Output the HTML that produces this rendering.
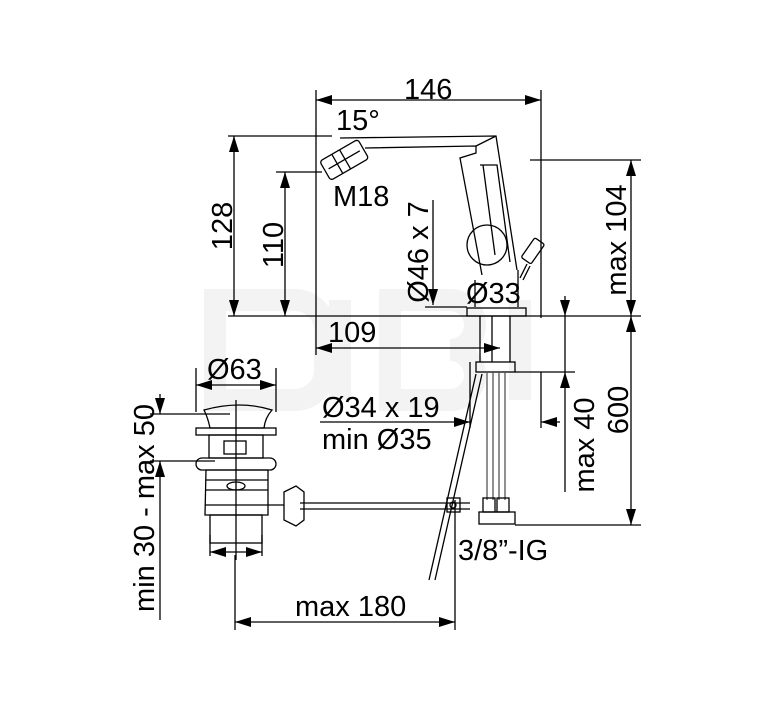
<!DOCTYPE html>
<html><head><style>body{margin:0;background:#fff}svg{display:block}text{font-family:"Liberation Sans",sans-serif;fill:#000}</style></head><body>
<svg width="767" height="709" viewBox="0 0 767 709" xmlns="http://www.w3.org/2000/svg">
<defs>
<marker id="b" viewBox="0 0 16 10" refX="16" refY="5" markerWidth="16" markerHeight="10" orient="auto-start-reverse" markerUnits="userSpaceOnUse"><path d="M0,0 L16,5 L0,10z" fill="#000"/></marker></defs>
<!-- watermark -->
<g fill="none" stroke="#f3f3f3" stroke-width="22">
<path d="M215,300 h80 a30,30 0 0 1 30,30 v40 a30,30 0 0 1 -30,30 h-80z"/>
<path d="M390,300 h60 a25,25 0 0 1 0,50 a25,25 0 0 1 0,50 h-60z"/>
<path d="M340,300 v100 M520,300 v100"/>
</g>
<g stroke="#000" stroke-width="1.3" fill="none">
<line x1="316" y1="100" x2="541" y2="100" marker-start="url(#b)" marker-end="url(#b)"/>
<line x1="316" y1="90" x2="316" y2="355"/>
<line x1="541" y1="90" x2="541" y2="318"/>
<line x1="228" y1="136" x2="332" y2="136"/>
<line x1="234" y1="136" x2="234" y2="316" marker-start="url(#b)" marker-end="url(#b)"/>
<line x1="276" y1="172" x2="322" y2="172"/>
<line x1="285" y1="172" x2="285" y2="316" marker-start="url(#b)" marker-end="url(#b)"/>
<line x1="228" y1="316" x2="641" y2="316"/>
<line x1="530" y1="160" x2="641" y2="160"/>
<line x1="631" y1="160" x2="631" y2="316" marker-start="url(#b)" marker-end="url(#b)"/>
<line x1="631" y1="316" x2="631" y2="525" marker-start="url(#b)" marker-end="url(#b)"/>
<line x1="515" y1="525" x2="641" y2="525"/>
<line x1="565" y1="296" x2="565" y2="316" marker-end="url(#b)"/>
<line x1="565" y1="316" x2="565" y2="372"/>
<line x1="565" y1="392" x2="565" y2="372" marker-end="url(#b)"/>
<line x1="565" y1="392" x2="565" y2="492"/>
<line x1="515" y1="372" x2="575" y2="372"/>
<line x1="433" y1="200" x2="433" y2="305" marker-end="url(#b)"/>
<line x1="425" y1="307" x2="467" y2="307"/>
<line x1="316" y1="348" x2="500" y2="348" marker-start="url(#b)" marker-end="url(#b)"/>
<line x1="320" y1="422" x2="470" y2="422" marker-end="url(#b)"/>
<line x1="560" y1="422" x2="541" y2="422" marker-end="url(#b)"/>
<line x1="470" y1="362" x2="470" y2="428"/>
<line x1="541" y1="372" x2="541" y2="428"/>
<line x1="196" y1="385" x2="276" y2="385" marker-start="url(#b)" marker-end="url(#b)"/>
<line x1="196" y1="368" x2="196" y2="412"/>
<line x1="276" y1="368" x2="276" y2="412"/>
<line x1="150" y1="414" x2="230" y2="414"/>
<line x1="150" y1="461" x2="215" y2="461"/>
<line x1="160" y1="394" x2="160" y2="414" marker-end="url(#b)"/>
<line x1="160" y1="481" x2="160" y2="461" marker-end="url(#b)"/>
<line x1="160" y1="481" x2="160" y2="620"/>
<line x1="235" y1="622" x2="455" y2="622" marker-start="url(#b)" marker-end="url(#b)"/>
<line x1="235" y1="555" x2="235" y2="630"/>
<line x1="455" y1="500" x2="455" y2="630"/>
<line x1="210" y1="552" x2="262" y2="552" marker-start="url(#b)" marker-end="url(#b)"/>
<line x1="210" y1="535" x2="210" y2="556"/><line x1="262" y1="535" x2="262" y2="556"/>
<path d="M340,138 L496,136 L517,270"/>
<path d="M365,148 L476,146 L476,153 L460,158 L482,275"/>
<path d="M476,146 L496,136"/>
<path d="M480,165 L497,165 L510,262"/>
<path d="M483,165 L495,255"/>
<circle cx="487" cy="245" r="20"/>
<g transform="rotate(-30 342 160)"><rect x="322" y="150" width="44" height="22" rx="3"/><line x1="336" y1="150" x2="336" y2="172"/><line x1="345" y1="150" x2="345" y2="172"/><line x1="326" y1="161" x2="362" y2="161"/></g>
<g transform="rotate(35 530 255)"><rect x="524" y="238" width="12" height="24" rx="2"/></g>
<line x1="520" y1="278" x2="527" y2="264"/><line x1="523" y1="280" x2="530" y2="266"/>
<rect x="467" y="308" width="59" height="8"/>
<line x1="475" y1="280" x2="475" y2="307"/><line x1="518" y1="270" x2="518" y2="307"/>
<line x1="480" y1="316" x2="480" y2="362"/><line x1="510" y1="316" x2="510" y2="362"/>
<rect x="476" y="362" width="39" height="10"/>
<line x1="492" y1="316" x2="492" y2="362"/>
<g stroke="#555"><line x1="487" y1="372" x2="487" y2="500"/><line x1="493" y1="372" x2="493" y2="500"/><line x1="499" y1="372" x2="499" y2="500"/><line x1="505" y1="372" x2="505" y2="500"/></g>
<rect x="483" y="498" width="12" height="14"/><rect x="497" y="498" width="12" height="14"/>
<rect x="479" y="512" width="36" height="12"/>
<line x1="476" y1="374" x2="429" y2="580"/><line x1="482" y1="374" x2="435" y2="580"/>
<line x1="300" y1="503" x2="470" y2="503"/><line x1="300" y1="509" x2="470" y2="509"/>
<rect x="447" y="498" width="13" height="14"/><circle cx="453" cy="505" r="3"/>
<path d="M204,410 Q240,400 272,410 Q265,418 264,428 L210,428 Q208,418 204,410z"/>
<rect x="196" y="428" width="80" height="7"/>
<path d="M209,435 L263,435 L263,458 L209,458z"/>
<rect x="224" y="441" width="22" height="13"/>
<rect x="196" y="458" width="80" height="12" rx="6"/>
<path d="M206,470 L268,470 L268,515 L205,515z"/>
<line x1="206" y1="480" x2="268" y2="480"/><line x1="206" y1="490" x2="268" y2="490"/>
<ellipse cx="236" cy="486" rx="9" ry="4"/>
<rect x="210" y="515" width="52" height="28"/>
<line x1="205" y1="505" x2="284" y2="505"/>
<path d="M284,492 L296,486 L304,492 L304,520 L296,526 L284,520z"/>
<line x1="236" y1="400" x2="236" y2="560"/>
</g>
<g font-size="29">
<text x="404" y="99">146</text>
<text x="336" y="130">15°</text>
<text x="333" y="206">M18</text>
<text x="466" y="303">Ø33</text>
<text x="328" y="342">109</text>
<text x="322" y="417">Ø34 x 19</text>
<text x="322" y="449">min Ø35</text>
<text x="207" y="379">Ø63</text>
<text x="458" y="560">3/8”-IG</text>
<text x="295" y="616">max 180</text>
<text transform="translate(232,226) rotate(-90)" text-anchor="middle">128</text>
<text transform="translate(283,245) rotate(-90)" text-anchor="middle">110</text>
<text transform="translate(428,252) rotate(-90)" text-anchor="middle">Ø46 x 7</text>
<text transform="translate(626,240) rotate(-90)" text-anchor="middle">max 104</text>
<text transform="translate(628,410) rotate(-90)" text-anchor="middle">600</text>
<text transform="translate(594,445) rotate(-90)" text-anchor="middle">max 40</text>
<text transform="translate(154,508) rotate(-90)" text-anchor="middle">min 30 - max 50</text>
</g>
</svg>
</body></html>
